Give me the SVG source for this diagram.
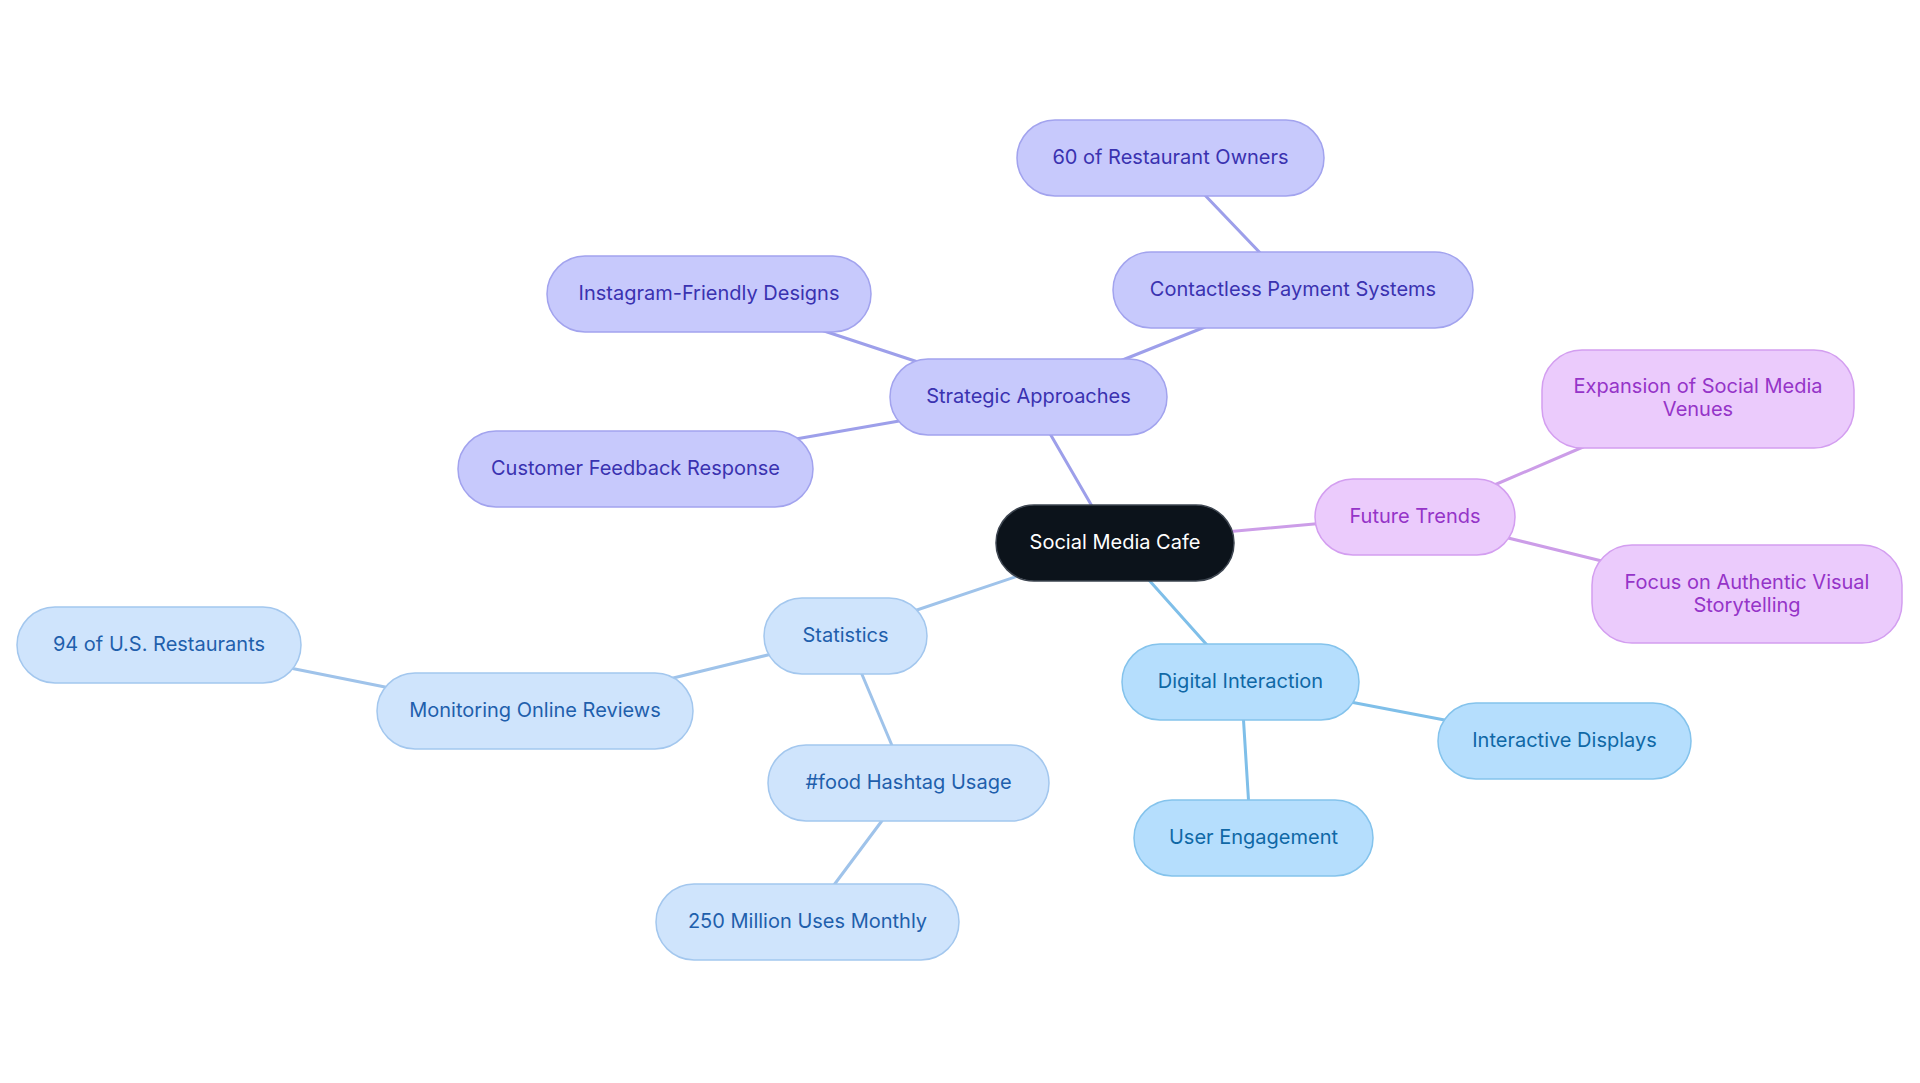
<svg xmlns="http://www.w3.org/2000/svg" width="1920" height="1083" viewBox="0 0 1920 1083">
<style>
text{font-family:Inter,"Liberation Sans",sans-serif;font-size:20px;text-anchor:middle}
.e{stroke-width:3;fill:none;stroke-linecap:round}
.ep{stroke:#9d9fea}.ef{stroke:#cc9de8}.es{stroke:#9fc3ea}.ed{stroke:#7fbfe9}
.np rect{fill:#c7c9fc;stroke:#a2a3ee;stroke-width:1.5}.np text{fill:#3a32b0}
.nf rect{fill:#ebcbfc;stroke:#d39ef0;stroke-width:1.5}.nf text{fill:#9534c8}
.ns rect{fill:#cfe4fc;stroke:#a3c7ee;stroke-width:1.5}.ns text{fill:#1f5fac}
.nd rect{fill:#b5defd;stroke:#84c3ec;stroke-width:1.5}.nd text{fill:#0f68a6}
.nr rect{fill:#0c131b;stroke:#3d4550;stroke-width:1.5}.nr text{fill:#ffffff}
</style>
<rect width="1920" height="1083" fill="#ffffff"/>
<g id="connectors">
<line class="e ep" x1="1100" y1="520" x2="1045" y2="425"/>
<line class="e ep" x1="1215" y1="323" x2="1110" y2="365"/>
<line class="e ep" x1="1200" y1="190" x2="1265" y2="258"/>
<line class="e ep" x1="815" y1="328" x2="930" y2="366"/>
<line class="e ep" x1="790" y1="440" x2="905" y2="420"/>
<line class="e ef" x1="1225" y1="532" x2="1325" y2="523"/>
<line class="e ef" x1="1485" y1="489" x2="1590" y2="444"/>
<line class="e ef" x1="1500" y1="536" x2="1610" y2="563"/>
<line class="e es" x1="1030" y1="572" x2="905" y2="614"/>
<line class="e es" x1="780" y1="652" x2="665" y2="680"/>
<line class="e es" x1="395" y1="689" x2="285" y2="667"/>
<line class="e es" x1="858" y1="665" x2="896" y2="755"/>
<line class="e es" x1="887" y1="814" x2="828" y2="893"/>
<line class="e ed" x1="1140" y1="570" x2="1215" y2="654"/>
<line class="e ed" x1="1340" y1="700" x2="1455" y2="722"/>
<line class="e ed" x1="1243" y1="712" x2="1249" y2="808"/>
</g>
<g id="root" class="nr"><rect x="996" y="505" width="238" height="76" rx="38"/><text x="1115" y="549">Social Media Cafe</text></g>
<g id="strategic" class="np"><rect x="890" y="359" width="277" height="76" rx="38"/><text x="1028.5" y="403">Strategic Approaches</text></g>
<g id="owners60" class="np"><rect x="1017" y="120" width="307" height="76" rx="38"/><text x="1170.5" y="164">60 of Restaurant Owners</text></g>
<g id="contactless" class="np"><rect x="1113" y="252" width="360" height="76" rx="38"/><text x="1293" y="296">Contactless Payment Systems</text></g>
<g id="instagram" class="np"><rect x="547" y="256" width="324" height="76" rx="38"/><text x="709" y="300">Instagram-Friendly Designs</text></g>
<g id="customer" class="np"><rect x="458" y="431" width="355" height="76" rx="38"/><text x="635.5" y="475">Customer Feedback Response</text></g>
<g id="future" class="nf"><rect x="1315" y="479" width="200" height="76" rx="38"/><text x="1415" y="523">Future Trends</text></g>
<g id="expansion" class="nf"><rect x="1542" y="350" width="312" height="98" rx="40"/><text x="1698" y="393">Expansion of Social Media</text><text x="1698" y="416">Venues</text></g>
<g id="focus" class="nf"><rect x="1592" y="545" width="310" height="98" rx="40"/><text x="1747" y="589">Focus on Authentic Visual</text><text x="1747" y="612">Storytelling</text></g>
<g id="statistics" class="ns"><rect x="764" y="598" width="163" height="76" rx="38"/><text x="845.5" y="642">Statistics</text></g>
<g id="monitoring" class="ns"><rect x="377" y="673" width="316" height="76" rx="38"/><text x="535" y="717">Monitoring Online Reviews</text></g>
<g id="us94" class="ns"><rect x="17" y="607" width="284" height="76" rx="38"/><text x="159" y="651">94 of U.S. Restaurants</text></g>
<g id="food" class="ns"><rect x="768" y="745" width="281" height="76" rx="38"/><text x="908.5" y="789">#food Hashtag Usage</text></g>
<g id="million" class="ns"><rect x="656" y="884" width="303" height="76" rx="38"/><text x="807.5" y="928">250 Million Uses Monthly</text></g>
<g id="digital" class="nd"><rect x="1122" y="644" width="237" height="76" rx="38"/><text x="1240.5" y="688">Digital Interaction</text></g>
<g id="interactive" class="nd"><rect x="1438" y="703" width="253" height="76" rx="38"/><text x="1564.5" y="747">Interactive Displays</text></g>
<g id="user" class="nd"><rect x="1134" y="800" width="239" height="76" rx="38"/><text x="1253.5" y="844">User Engagement</text></g>
</svg>
